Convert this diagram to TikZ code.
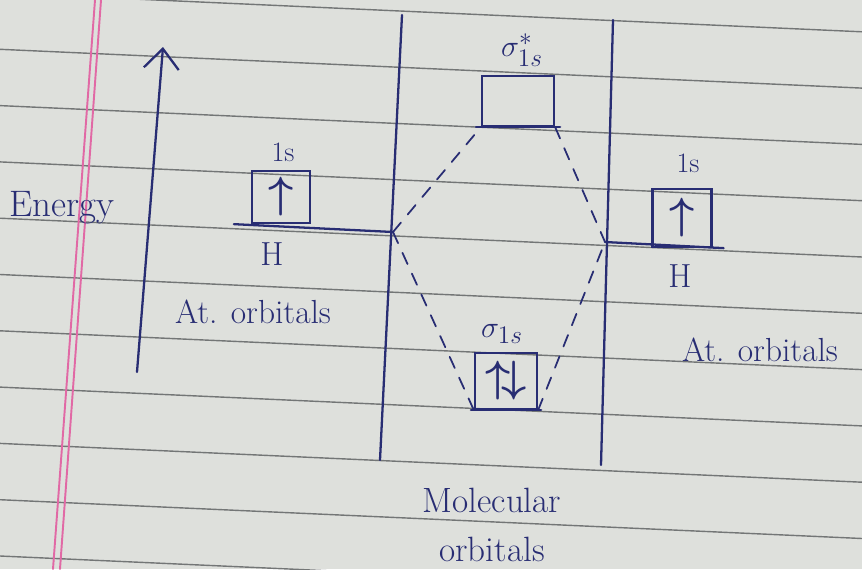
\documentclass[tikz,border=0pt]{standalone}
\usepackage{amsmath, amssymb}
\usepackage{xcolor}
\usetikzlibrary{arrows.meta}
\definecolor{ink}{RGB}{40,45,115}
\definecolor{paper}{RGB}{222,224,220}
\definecolor{rulegray}{RGB}{115,118,118}
\definecolor{margin}{RGB}{225,105,165}

\begin{document}
\begin{tikzpicture}[x=0.02cm, y=-0.02cm, line cap=round,
  every node/.style={font=\fontsize{19}{22}\selectfont, text=ink},
  ruling/.style={rulegray, line width=0.8pt},
  inkline/.style={ink, line width=1.3pt},
  orbbox/.style={draw=ink, line width=1.3pt, inner sep=0pt, font=\fontsize{24}{26}\selectfont},
  lbl/.style={font=\fontsize{16}{18}\selectfont},
  corr/.style={ink, line width=1pt, dash pattern=on 7pt off 6pt}]

  % paper
  \useasboundingbox (0,0) rectangle (862,569);
  \fill[paper] (0,0) rectangle (862,569);
  \begin{scope}
    \clip (0,0) rectangle (862,569);
    \foreach \k in {0,...,10}
      \draw[ruling] (0,{-7+56.3*\k}) -- (862,{31.8+56.3*\k});
  \end{scope}
  \draw[margin, line width=1.1pt] (95,0) -- (53,569);
  \draw[margin, line width=1.1pt] (101,0) -- (60,569);

  % energy axis
  \coordinate (ebot) at (137,372);
  \coordinate (etop) at (163,47);
  \draw[inkline, -{Straight Barb[length=4mm, width=7mm]}] (ebot) -- (etop);
  \node[font=\fontsize{21}{24}\selectfont] (energy) at (62,208) {Energy};

  % dividers
  \coordinate (ldtop) at (402,15);
  \coordinate (ldbot) at (380,460);
  \coordinate (rdtop) at (613,20);
  \coordinate (rdbot) at (601,465);
  \draw[inkline] (ldtop) -- (ldbot);
  \draw[inkline] (rdtop) -- (rdbot);
  \coordinate (lmeet) at (393,232);
  \coordinate (rmeet) at (605,242);

  % atomic orbitals
  \node[orbbox, minimum width=1.16cm, minimum height=1.04cm] (hleft) at (281,197) {$\boldsymbol{\uparrow}$};
  \node[lbl] (sleft) at (283,152) {1s};
  \node (hlabl) at (272,254) {H};
  \node (atleft) at (253,312) {At. orbitals};
  \draw[inkline] ([xshift=-0.34cm]hleft.south west) -- (lmeet);

  \node[orbbox, minimum width=1.18cm, minimum height=1.16cm] (hright) at (682,218) {$\boldsymbol{\uparrow}$};
  \node[lbl] (sright) at (688,163) {1s};
  \node (hlabr) at (680,276) {H};
  \node (atright) at (760,350) {At. orbitals};
  \draw[inkline] (rmeet) -- ([xshift=0.22cm]hright.south east);

  % molecular orbitals
  \node[orbbox, minimum width=1.44cm, minimum height=1.0cm] (sigstar) at (518,101) {};
  \node (sstar) at (522,50) {$\sigma^{*}_{1s}$};
  \draw[inkline] ([xshift=-0.1cm]sigstar.south west) -- ([xshift=0.1cm]sigstar.south east);

  \node[orbbox, minimum width=1.24cm, minimum height=1.12cm] (sig) at (506,381) {$\boldsymbol{\uparrow\!\downarrow}$};
  \node (slab) at (502,334) {$\sigma_{1s}$};
  \draw[inkline] ([xshift=-0.06cm]sig.south west) -- ([xshift=0.06cm]sig.south east);

  \node[align=center, font=\fontsize{20}{28}\selectfont] (mo) at (492,525) {Molecular\\orbitals};

  % correlation lines
  \draw[corr] (lmeet) -- (sigstar.south west);
  \draw[corr] (sigstar.south east) -- (rmeet);
  \draw[corr] (lmeet) -- (sig.south west);
  \draw[corr] (sig.south east) -- (rmeet);
\end{tikzpicture}
\end{document}
